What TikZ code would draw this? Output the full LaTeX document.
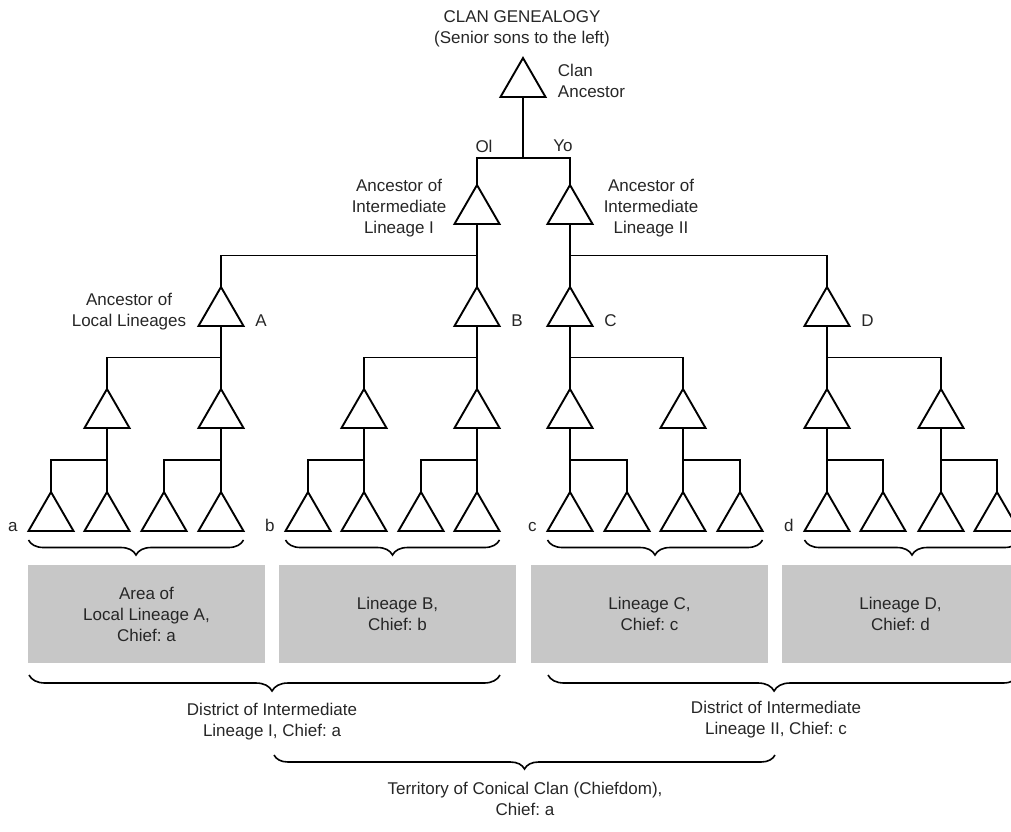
\documentclass[tikz,border=0pt]{standalone}
\usepackage{fontspec}
\setmainfont{Liberation Sans}
\usetikzlibrary{shapes.geometric,decorations.pathreplacing,calc}
\frenchspacing
\begin{document}
\begin{tikzpicture}[x=1pt, y=-1pt, line width=1.9pt,
    font=\fontsize{17}{21}\selectfont,
    kin/.style={draw, regular polygon, regular polygon sides=3, minimum size=52pt, inner sep=0pt, outer sep=0pt},
    lab/.style={align=center, inner sep=0pt, text=black!85},
    patch/.style={fill=black!22, minimum width=237pt, minimum height=98pt, align=center, inner sep=0pt, text=black!85},
    curly/.style={decorate, decoration={brace, mirror, amplitude=#1}, line width=1.6pt}]
    \path[use as bounding box] (0,0) rectangle (1011,831);
    \clip (0,0) rectangle (1011,831);
    % genealogy
    \node[kin] (clan) at (523,84) {};
    \node[kin] (I) at (477,211) {};
    \node[kin] (II) at (570,211) {};
    \foreach \n/\x in {A/221, B/477, C/570, D/827}
        \node[kin] (\n) at (\x,313) {};
    \foreach \n/\x in {A1/107, A2/221, B1/364, B2/477, C1/570, C2/683, D1/827, D2/941}
        \node[kin] (\n) at (\x,415) {};
    \foreach \n/\x in {A11/51, A12/107, A21/164, A22/221, B11/308, B12/364, B21/421, B22/477,
                       C11/570, C12/627, C21/683, C22/740, D11/827, D12/883, D21/941, D22/997}
        \node[kin] (\n) at (\x,518) {};
    \coordinate (top) at (523,158);
    \draw (clan.south) -- (top);
    \draw (I.north) |- (top) -| (II.north);
    % parent / son straight below / other son
    \foreach \p/\s/\o in {I/B/A, II/C/D, A/A2/A1, B/B2/B1, C/C1/C2, D/D1/D2,
                          A1/A12/A11, A2/A22/A21, B1/B12/B11, B2/B22/B21,
                          C1/C11/C12, C2/C21/C22, D1/D11/D12, D2/D21/D22} {
        \draw (\p.south) -- (\s.north);
        \draw (\o.north) |- ($(\p.south)!0.5!(\s.north)$);
    }
    % labels
    \node[lab] (title) at (522,29) {CLAN GENEALOGY\\(Senior sons to the left)};
    \node[lab, anchor=west, align=left] (lclan) at (557,81) {Clan\\Ancestor};
    \node[lab] (ol) at (484,146) {Ol};
    \node[lab] (yo) at (563,146) {Yo};
    \node[lab] (lI) at (399,208) {Ancestor of\\Intermediate\\Lineage I};
    \node[lab] (lII) at (651,208) {Ancestor of\\Intermediate\\Lineage II};
    \node[lab] (lloc) at (129,312) {Ancestor of\\Local Lineages};
    \foreach \n in {A,B,C,D}
        \node[lab, anchor=base west] (l\n) at ([xshift=11pt]\n.corner 3) {\n};
    \foreach \n/\m in {a/A11, b/B11, c/C11, d/D11}
        \node[lab, anchor=base east] (l\n) at ([xshift=-10pt]\m.corner 2) {\n};
    % areas
    \foreach \f/\l in {A11/A22, B11/B22, C11/C22, D11/D22}
        \draw[curly=15pt] ([yshift=-9pt]\f.corner 2) -- ([yshift=-9pt]\l.corner 3);
    \node[patch] (pA) at (146.5,614) {Area of\\Local Lineage A,\\Chief: a};
    \node[patch] (pB) at (397.5,614) {Lineage B,\\Chief: b};
    \node[patch] (pC) at (649.5,614) {Lineage C,\\Chief: c};
    \node[patch] (pD) at (900.5,614) {Lineage D,\\Chief: d};
    % districts and territory
    \coordinate (dIl) at (29,675);
    \coordinate (dIr) at (500,675);
    \coordinate (dIIl) at (548,675);
    \coordinate (dIIr) at (1019,675);
    \draw[curly=16pt, decoration={aspect=0.516}] (dIl) -- (dIr);
    \draw[curly=16pt, decoration={aspect=0.48}] (dIIl) -- (dIIr);
    \node[lab] (distI) at (272,722) {District of Intermediate\\Lineage I, Chief: a};
    \node[lab] (distII) at (776,720) {District of Intermediate\\Lineage II, Chief: c};
    \coordinate (tl) at (274,755);
    \coordinate (tr) at (775,755);
    \draw[curly=14pt] (tl) -- (tr);
    \node[lab] (terr) at (525,799) {Territory of Conical Clan (Chiefdom),\\Chief: a};
\end{tikzpicture}
\end{document}
